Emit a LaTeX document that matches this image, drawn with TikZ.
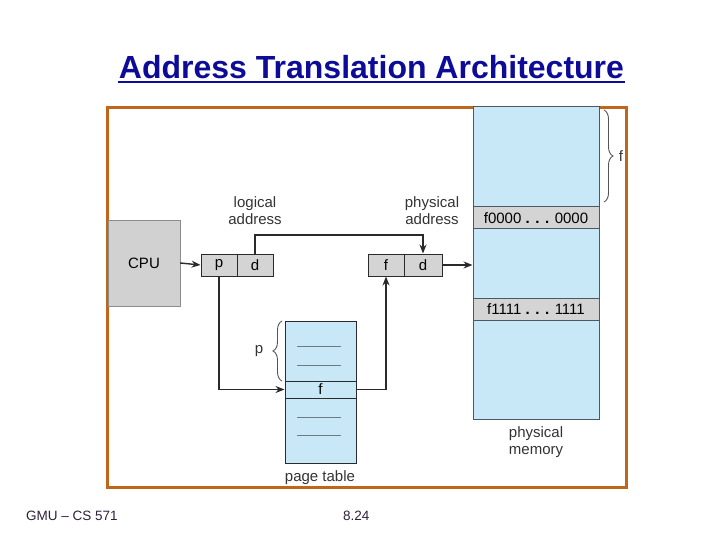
\documentclass[tikz,border=0pt]{standalone}
\usepackage{fontspec}
\setmainfont{Liberation Sans}
\usetikzlibrary{decorations.pathreplacing,arrows.meta}
\definecolor{frameor}{HTML}{C0661A}
\definecolor{memblue}{HTML}{C8E8F8}
\definecolor{cellgray}{HTML}{D4D4D4}
\definecolor{titleblue}{HTML}{0C0C98}
\definecolor{linegray}{HTML}{2A2A2A}
\definecolor{edgegray}{HTML}{4A5A64}
\definecolor{foot}{HTML}{2E2038}
\tikzset{
  lbl/.style={font=\fontsize{15}{17}\selectfont, text=black!80, align=center, inner sep=0},
  cell/.style={draw=linegray, line width=1pt, fill=cellgray, minimum height=22, inner sep=0, font=\fontsize{15}{16}\selectfont},
  conn/.style={draw=linegray, line width=1.4pt},
  arr/.style={conn, -{Stealth[length=9pt,width=7pt]}},
  dashln/.style={draw=edgegray!80, line width=0.9pt},
  brc/.style={draw=linegray!80, line width=0.9pt, decorate, decoration={brace, amplitude=9pt}}
}
\begin{document}
\begin{tikzpicture}[x=1pt,y=-1pt]
\useasboundingbox (0,0) rectangle (720,540);
% title
\node[font=\fontsize{32}{36}\selectfont\bfseries, text=titleblue, inner sep=0] (title) at (371.5,67) {Address Translation Architecture};
\draw[titleblue, line width=2.2pt] (118,82) -- (625,82);
% frame
\draw[frameor, line width=3pt] (107.5,107.5) rectangle (626,487);
% physical memory
\node[draw=edgegray, line width=1pt, fill=memblue, minimum width=126, minimum height=312, inner sep=0] (mem) at (536,263) {};
\node[cell, draw=edgegray, minimum width=126] (band0) at (536,218) {f0000 \textbf{. . .} 0000};
\node[cell, draw=edgegray, minimum width=126] (band1) at (536,309.5) {f1111 \textbf{. . .} 1111};
\draw[brc] (604,110) -- (604,202);
\node[lbl] (flab) at (621,156) {f};
\node[lbl] (pm) at (536,442) {physical\\[0pt]memory};
% CPU
\node[draw=black!45, fill=black!18, minimum width=72, minimum height=86, inner sep=0, font=\fontsize{15}{16}\selectfont] (cpu) at (144,263) {CPU};
% logical address
\node[cell, minimum width=36] (p) at (219,265) {p};
\node[cell, minimum width=36] (d) at (255,265) {d};
\node[lbl] (la) at (255,211) {logical\\[0pt]address};
% physical address
\node[cell, minimum width=36] (f) at (386,265) {f};
\node[cell, minimum width=38] (d2) at (423,265) {d};
\node[lbl] (pa) at (432,211) {physical\\[0pt]address};
% page table
\node[draw=linegray, line width=1pt, fill=memblue, minimum width=71, minimum height=142, inner sep=0] (pt) at (320.5,392) {};
\node[draw=linegray, line width=1pt, fill=memblue, minimum width=71, minimum height=17, inner sep=0, font=\fontsize{15}{16}\selectfont] (frow) at (320.5,389.5) {f};
\draw[dashln] (297,346) -- (341,346);
\draw[dashln] (297,365) -- (341,365);
\draw[dashln] (297,417) -- (341,417);
\draw[dashln] (297,435) -- (341,435);
\draw[brc] (282,381) -- (282,321);
\node[lbl] (plab) at (259,351) {p};
\node[lbl] (ptl) at (320,478) {page table};
% connectors
\draw[arr] (cpu.east) -- (p.west);
\draw[arr] (d.north) -- (d.north |- 0,235) -| (d2.north);
\draw[arr] (d2.east) -- (d2.east -| mem.west);
\draw[arr] (p.south) |- (frow.west);
\draw[arr] (frow.east) -| (f.south);
% footer
\node[font=\fontsize{13.5}{15}\selectfont, text=foot, anchor=west, inner sep=0] (ft1) at (26,516) {GMU – CS 571};
\node[font=\fontsize{13.5}{15}\selectfont, text=foot, anchor=west, inner sep=0] (ft2) at (343,516) {8.24};
\end{tikzpicture}
\end{document}
